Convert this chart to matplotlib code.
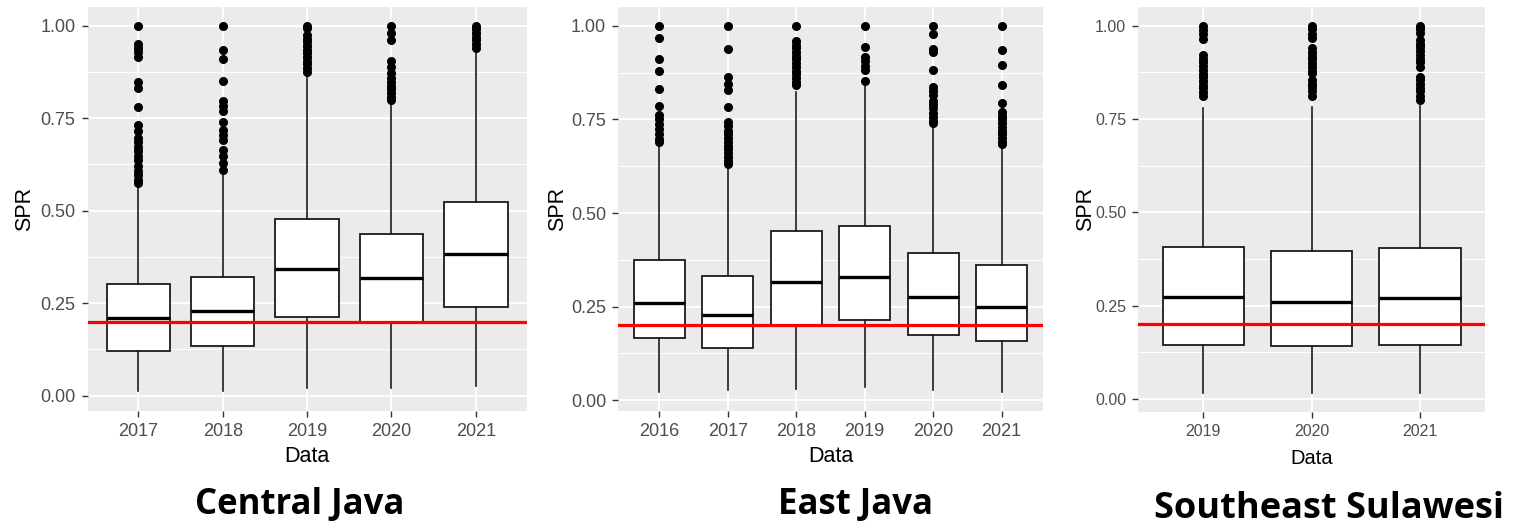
import matplotlib
matplotlib.use('Agg')
import matplotlib.pyplot as plt
from matplotlib.ticker import MultipleLocator

# --- data ---
cj_years = ['2017', '2018', '2019', '2020', '2021']
cj_q1 = [0.122, 0.135, 0.212, 0.196, 0.241]
cj_med = [0.210, 0.228, 0.342, 0.317, 0.382]
cj_q3 = [0.302, 0.322, 0.477, 0.436, 0.523]
cj_lo = [0.012, 0.012, 0.021, 0.021, 0.025]
cj_hi = [0.566, 0.602, 0.869, 0.790, 0.935]
cj_out = [
    [1.0, 0.95, 0.94, 0.928, 0.915, 0.848, 0.83, 0.78, 0.732, 0.715, 0.697, 0.685,
     0.672, 0.66, 0.648, 0.638, 0.62, 0.607, 0.595, 0.583, 0.575],
    [1.0, 0.934, 0.91, 0.849, 0.795, 0.783, 0.77, 0.739, 0.719, 0.705, 0.69,
     0.665, 0.648, 0.628, 0.61],
    [1.0, 0.993, 0.975, 0.965, 0.955, 0.945, 0.935, 0.925, 0.915, 0.905, 0.895,
     0.885, 0.875],
    [1.0, 0.979, 0.962, 0.903, 0.887, 0.872, 0.858, 0.848, 0.838, 0.828, 0.818,
     0.808, 0.798],
    [1.0, 0.99, 0.98, 0.97, 0.96, 0.95, 0.94],
]

ej_years = ['2016', '2017', '2018', '2019', '2020', '2021']
ej_q1 = [0.165, 0.140, 0.200, 0.213, 0.173, 0.158]
ej_med = [0.260, 0.228, 0.315, 0.329, 0.277, 0.248]
ej_q3 = [0.374, 0.333, 0.451, 0.466, 0.394, 0.362]
ej_lo = [0.022, 0.027, 0.031, 0.036, 0.027, 0.022]
ej_hi = [0.685, 0.625, 0.823, 0.841, 0.735, 0.681]
ej_out = [
    [1.0, 0.968, 0.911, 0.879, 0.83, 0.786, 0.762, 0.75, 0.738, 0.725, 0.712,
     0.698, 0.689],
    [1.0, 0.939, 0.863, 0.845, 0.828, 0.782, 0.743, 0.733, 0.72, 0.71, 0.7, 0.69,
     0.68, 0.67, 0.66, 0.65, 0.64, 0.63],
    [1.0, 0.96, 0.95, 0.94, 0.93, 0.92, 0.91, 0.9, 0.89, 0.88, 0.87, 0.86, 0.85,
     0.843],
    [1.0, 0.944, 0.917, 0.905, 0.893, 0.881, 0.852],
    [1.0, 0.979, 0.939, 0.93, 0.883, 0.837, 0.825, 0.815, 0.8, 0.79, 0.78, 0.768,
     0.757, 0.745, 0.74],
    [1.0, 0.935, 0.896, 0.843, 0.795, 0.77, 0.76, 0.75, 0.74, 0.73, 0.72, 0.71,
     0.7, 0.69, 0.683],
]

ss_years = ['2019', '2020', '2021']
ss_q1 = [0.146, 0.142, 0.146]
ss_med = [0.274, 0.261, 0.270]
ss_q3 = [0.408, 0.397, 0.404]
ss_lo = [0.015, 0.015, 0.015]
ss_hi = [0.779, 0.783, 0.785]
ss_out = [
    [1.0, 0.988, 0.977, 0.965, 0.922, 0.912, 0.902, 0.892, 0.882, 0.872, 0.862,
     0.852, 0.842, 0.832, 0.822, 0.811],
    [1.0, 0.99, 0.978, 0.966, 0.94, 0.93, 0.92, 0.91, 0.9, 0.89, 0.88, 0.873,
     0.855, 0.845, 0.835, 0.825, 0.811],
    [1.0, 0.99, 0.98, 0.962, 0.952, 0.942, 0.932, 0.922, 0.912, 0.902, 0.89,
     0.864, 0.854, 0.844, 0.834, 0.824, 0.812, 0.802],
]

ref_line = 0.2
titles = ['Central Java', 'East Java', 'Southeast Sulawesi']

# --- style ---
W, H = 1523, 527
fig = plt.figure(figsize=(W / 100, H / 100), dpi=100)

base_font = 'Liberation Sans'
title_font = 'Open Sans'
plt.rcParams['font.family'] = [base_font, 'DejaVu Sans']

def px_axes(left, right, top, bottom):
    return fig.add_axes([left / W, (H - bottom) / H, (right - left) / W, (bottom - top) / H])

def draw_panel(ax, years, q1, med, q3, lo, hi, out, ylim, tick_fs=13, xlab_fs=15.5):
    stats = []
    for i in range(len(years)):
        stats.append(dict(label=years[i], q1=q1[i], med=med[i], q3=q3[i],
                          whislo=lo[i], whishi=hi[i], fliers=out[i]))
    ax.bxp(stats, widths=0.75, showcaps=False, patch_artist=True,
           boxprops=dict(facecolor='white', edgecolor='#1a1a1a', linewidth=1.3),
           medianprops=dict(color='black', linewidth=2.4, solid_capstyle='butt'),
           whiskerprops=dict(color='#1a1a1a', linewidth=1.2),
           flierprops=dict(marker='o', markerfacecolor='black', markeredgecolor='black',
                           markersize=5.5, linestyle='none'))
    ax.axhline(ref_line, color='#ff0000', linewidth=2.3, zorder=5)
    ax.set_xlim(0.4, len(years) + 0.6)
    ax.set_ylim(*ylim)
    ax.set_facecolor('#EBEBEB')
    ax.set_axisbelow(True)
    ax.yaxis.set_minor_locator(MultipleLocator(0.125))
    ax.set_yticks([0, 0.25, 0.5, 0.75, 1.0])
    ax.set_yticklabels(['0.00', '0.25', '0.50', '0.75', '1.00'])
    ax.grid(which='major', color='white', linewidth=1.3)
    ax.grid(which='minor', axis='y', color='white', linewidth=0.7)
    ax.tick_params(which='minor', length=0)
    ax.tick_params(which='major', length=4.2, width=1.0, color='#333333',
                   labelcolor='#4D4D4D', labelsize=tick_fs, pad=4.5)
    for s in ax.spines.values():
        s.set_visible(False)
    ax.set_ylabel('SPR', fontsize=15.5, color='black')
    ax.set_xlabel('Data', fontsize=xlab_fs, color='black')

ax1 = px_axes(87.7, 526.5, 6.7, 410.7)
draw_panel(ax1, cj_years, cj_q1, cj_med, cj_q3, cj_lo, cj_hi, cj_out, (-0.0405, 1.051))
ax2 = px_axes(618.3, 1042.7, 6.7, 410.7)
draw_panel(ax2, ej_years, ej_q1, ej_med, ej_q3, ej_lo, ej_hi, ej_out, (-0.028, 1.051))
ax3 = px_axes(1138.3, 1485, 6.7, 411.7)
draw_panel(ax3, ss_years, ss_q1, ss_med, ss_q3, ss_lo, ss_hi, ss_out, (-0.034, 1.051),
           tick_fs=11.5, xlab_fs=14.5)

# label positions (pixels)
for ax, ylab_x, xlab_y in [(ax1, 25, 457), (ax2, 557.5, 457), (ax3, 1086, 458)]:
    bb = ax.get_position()
    l, b, w, h = bb.x0 * W, (1 - bb.y1) * H, bb.width * W, bb.height * H
    ax.yaxis.set_label_coords((ylab_x - l) / w, 0.5)
    ax.xaxis.set_label_coords(0.5, -(xlab_y - (b + h)) / h)
    ax.xaxis.label.set_va('center')
    ax.yaxis.label.set_va('center')

# panel titles
for t, cx, by, fs in [(titles[0], 300, 514, 25), (titles[1], 856, 514, 25),
                      (titles[2], 1329, 518, 26)]:
    fig.text(cx / W, 1 - by / H, t, ha='center', va='baseline', fontsize=fs,
             fontweight='bold', family=[title_font, 'DejaVu Sans'])

fig.savefig('out.png', dpi=100)
